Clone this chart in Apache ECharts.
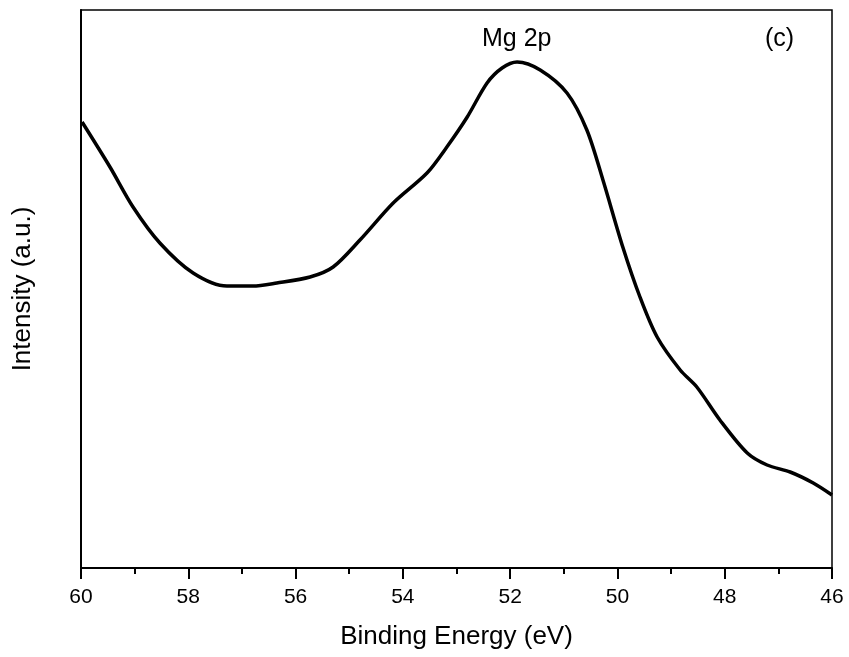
<!DOCTYPE html>
<html>
<head>
<meta charset="utf-8">
<script src="https://cdn.jsdelivr.net/npm/echarts@6/dist/echarts.min.js"></script>
<style>html,body{margin:0;padding:0;background:#fff;}#chart{width:849px;height:657px;}</style>
</head>
<body>
<div id="chart"></div>
<script>
const energies = [59.98, 59.46, 59.03, 58.53, 57.91, 57.28, 56.80, 56.35, 55.73, 55.30, 54.80, 54.18, 53.55, 53.18, 52.80, 52.43, 52.15, 51.87, 51.44, 50.94, 50.57, 50.27, 49.90, 49.58, 49.26, 48.83, 48.52, 48.09, 47.58, 47.21, 46.78, 46.35, 46.00];
const intensities = [446, 401, 361, 325, 295, 282, 282, 285, 291, 301, 328, 365, 395, 421, 451, 485, 500, 506, 498, 475, 438, 388, 321, 271, 231, 198, 181, 148, 115, 103, 96, 85, 73];
const xTicks = [46, 48, 50, 52, 54, 56, 58, 60];

const chart = echarts.init(document.getElementById('chart'));
const font = 'Liberation Sans, Arial, sans-serif';
const seriesData = energies.map((e, i) => [e, intensities[i]]);
chart.setOption({
  animation: false,
  backgroundColor: '#fff',
  grid: { left: 81, right: 17, top: 10, bottom: 89, show: true, borderColor: '#000', borderWidth: 1.5, backgroundColor: 'transparent' },
  xAxis: {
    type: 'value', min: 46, max: 60, interval: 2, inverse: true,
    name: 'Binding Energy (eV)', nameLocation: 'middle', nameGap: 56,
    nameTextStyle: { fontFamily: font, fontSize: 26, color: '#000' },
    axisLine: { lineStyle: { color: '#000', width: 2 } },
    axisTick: { inside: false, length: 11, lineStyle: { color: '#000', width: 2 } },
    minorTick: { show: true, splitNumber: 2, length: 6, lineStyle: { color: '#000', width: 2 } },
    axisLabel: { fontFamily: font, fontSize: 21, color: '#000', margin: 19,
      formatter: v => xTicks.includes(v) ? String(v) : '' },
    splitLine: { show: false }
  },
  yAxis: {
    type: 'value', min: 0, max: 558,
    name: 'Intensity (a.u.)', nameLocation: 'middle', nameGap: 45,
    nameTextStyle: { fontFamily: font, fontSize: 26, color: '#000' },
    axisLine: { show: true, lineStyle: { color: '#000', width: 2 } },
    axisTick: { show: false }, axisLabel: { show: false }, splitLine: { show: false }
  },
  graphic: [
    { type: 'text', left: 482, top: 27, style: { text: 'Mg 2p', fontFamily: font, fontSize: 25, fill: '#000' } },
    { type: 'text', left: 765, top: 27, style: { text: '(c)', fontFamily: font, fontSize: 25, fill: '#000' } }
  ],
  series: [{
    type: 'line', smooth: 0.3, symbol: 'none',
    lineStyle: { color: '#000', width: 3.5 },
    data: seriesData
  }]
});
</script>
</body>
</html>
